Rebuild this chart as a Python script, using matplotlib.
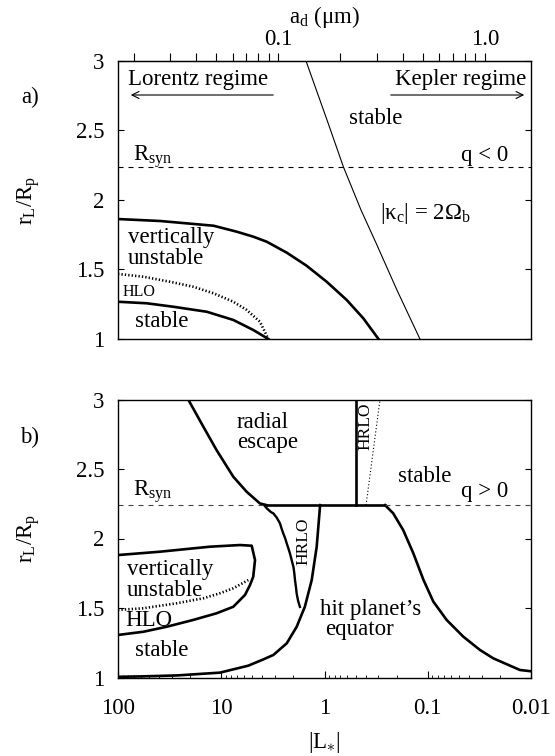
import matplotlib
matplotlib.use("Agg")
import matplotlib.pyplot as plt
from matplotlib.patches import FancyArrowPatch
from matplotlib.ticker import FixedLocator, FixedFormatter, NullFormatter

plt.rcParams["font.family"] = ["Liberation Serif", "DejaVu Serif"]
plt.rcParams["mathtext.fontset"] = "custom"
plt.rcParams["mathtext.rm"] = "Liberation Serif"
plt.rcParams["mathtext.it"] = "Liberation Serif:italic"
plt.rcParams["mathtext.bf"] = "Liberation Serif:bold"

FS = 16.5          # main text size
FS_SMALL = 11.5
FS_HRLO = 12.5
THICK = 1.9
THIN = 0.8

# ---------------------------------------------------------------- data
R_SYN = 2.24
L_LIM = (100, 0.01)
R_LIM = (1.0, 3.0)
R_TICKS = [1.0, 1.5, 2.0, 2.5, 3.0]
R_TICK_LABELS = ["1", "1.5", "2", "2.5", "3"]
L_TICKS = [100, 10, 1, 0.1, 0.01]
L_TICK_LABELS = ["100", "10", "1", "0.1", "0.01"]
A_TICKS = [0.1, 1.0]
A_TICK_LABELS = ["0.1", "1.0"]
A_MINOR = [0.02, 0.03, 0.04, 0.05, 0.06, 0.07, 0.08, 0.09,
           0.2, 0.3, 0.4, 0.5, 0.6, 0.7, 0.8, 0.9]
L_AT_A01 = 2.8     # |L*| where a_d = 0.1 micron (a_d ~ |L*|^-1/2)

# panel a: negative charge (q < 0)
kappa_L = [1.51, 0.946, 0.655, 0.443, 0.317, 0.199, 0.119]
kappa_r = [3.0, 2.576, 2.237, 1.928, 1.691, 1.353, 1.0]
vert_a_L = [100, 39.2, 11.9, 7.08, 4.89, 3.63, 2.32, 1.49, 0.953, 0.61, 0.421, 0.30]
vert_a_r = [1.863, 1.849, 1.815, 1.772, 1.736, 1.700, 1.621, 1.527, 1.412, 1.281, 1.149, 1.0]
hlo_a_L = [100, 56.9, 31.4, 18.7, 11.9, 7.64, 5.67, 4.22, 3.50]
hlo_a_r = [1.468, 1.448, 1.412, 1.376, 1.329, 1.268, 1.209, 1.124, 1.0]
stab_a_L = [100, 52.7, 29.1, 13.8, 7.64, 4.9, 3.50]
stab_a_r = [1.268, 1.257, 1.232, 1.196, 1.137, 1.065, 1.0]

# panel b: positive charge (q > 0)
esc_L = [20.9, 14.9, 11.1, 7.64, 5.67, 4.22, 3.63]
esc_r = [3.0, 2.804, 2.636, 2.444, 2.336, 2.252, 2.24]
syn_edge_L = [3.63, 0.259]
wall_L = [0.495, 0.495]
wall_r = [2.24, 3.0]
hrlo_top_L = [0.396, 0.29]
hrlo_top_r = [2.24, 3.0]
hit_right_L = [0.259, 0.216, 0.173, 0.138, 0.110, 0.0883, 0.0656, 0.0453,
               0.0312, 0.0232, 0.0128, 0.01]
hit_right_r = [2.24, 2.181, 2.061, 1.894, 1.702, 1.546, 1.414, 1.294,
               1.198, 1.138, 1.054, 1.045]
hit_left_L = [100, 58.8, 26.7, 10.3, 5.48, 3.92, 3.13, 2.32, 1.86, 1.55,
              1.33, 1.19, 1.106, 1.10]
hit_left_r = [1.005, 1.008, 1.015, 1.035, 1.085, 1.13, 1.162, 1.246, 1.365,
              1.509, 1.701, 1.941, 2.229, 2.24]
hrlo_jag_L = [3.85, 3.6, 3.3, 3.13, 2.9, 2.70, 2.60, 2.51, 2.40, 2.32, 2.24,
              2.16, 2.08, 2.00, 1.96, 1.93, 1.89, 1.86, 1.80, 1.73]
hrlo_jag_r = [2.24, 2.215, 2.19, 2.181, 2.15, 2.109, 2.07, 2.037, 2.0, 1.964,
              1.93, 1.892, 1.845, 1.796, 1.75, 1.700, 1.65, 1.604, 1.55, 1.508]
vu_b_L = [100, 39.2, 12.9, 6.58, 5.07, 4.71, 4.90, 5.27, 5.89, 7.64, 11.1,
          18.7, 33.8, 56.9, 100]
vu_b_r = [1.881, 1.905, 1.941, 1.953, 1.948, 1.845, 1.725, 1.665, 1.594,
          1.509, 1.462, 1.414, 1.365, 1.329, 1.306]
hlo_b_L = [100, 56.9, 27.0, 14.9, 10.3, 7.64, 5.47]
hlo_b_r = [1.486, 1.498, 1.534, 1.570, 1.606, 1.642, 1.701]

# ---------------------------------------------------------------- figure
W, H = 555, 756
fig = plt.figure(figsize=(W / 100, H / 100), dpi=100)


def box(left, top, right, bottom):
    return [left / W, 1 - bottom / H, (right - left) / W, (bottom - top) / H]


def ptext(x, y, s, **kw):
    kw.setdefault("fontsize", FS)
    fig.text(x / W, 1 - y / H, s, **kw)


ax_a = fig.add_axes(box(118, 61, 531, 339))
ax_b = fig.add_axes(box(118, 399.5, 531, 677.5))

dash = (0, (4.5, 4.5))
dots = (0, (0.5, 0.8))
fine_dots = (0, (1, 2))

for ax in (ax_a, ax_b):
    ax.set_xscale("log")
    ax.set_xlim(*L_LIM)
    ax.set_ylim(*R_LIM)
    ax.yaxis.set_major_locator(FixedLocator(R_TICKS))
    ax.yaxis.set_major_formatter(FixedFormatter(R_TICK_LABELS))
    ax.tick_params(axis="y", which="both", direction="in", left=True,
                   right=True, length=4, width=0.8, labelsize=FS, pad=10)
    for s in ax.spines.values():
        s.set_linewidth(1.0)
    ax.set_ylabel(r"r$_\mathrm{L}$/R$_\mathrm{p}$", fontsize=FS)
    ax.yaxis.set_label_coords(-0.183, 0.5)

# panel a
ax_a.tick_params(axis="x", which="both", bottom=False, top=False,
                 labelbottom=False)
ax_a.plot(kappa_L, kappa_r, color="black", lw=THIN)
ax_a.plot(vert_a_L, vert_a_r, color="black", lw=THICK)
ax_a.plot(hlo_a_L, hlo_a_r, color="black", lw=THICK, linestyle=dots)
ax_a.plot(stab_a_L, stab_a_r, color="black", lw=THICK)
ax_a.plot(L_LIM, [R_SYN, R_SYN], color="black", lw=THIN, linestyle=dash)

sec = ax_a.secondary_xaxis(
    "top",
    functions=(lambda L: 0.1 * (L / L_AT_A01) ** -0.5,
               lambda a: L_AT_A01 * (a / 0.1) ** -2.0))
sec.xaxis.set_major_locator(FixedLocator(A_TICKS))
sec.xaxis.set_major_formatter(FixedFormatter(A_TICK_LABELS))
sec.xaxis.set_minor_locator(FixedLocator(A_MINOR))
sec.xaxis.set_minor_formatter(NullFormatter())
sec.tick_params(axis="x", which="both", direction="out", length=6,
                width=0.8, labelsize=FS, pad=2)
sec.set_xlabel(r"a$_\mathrm{d}$ (μm)", fontsize=FS, labelpad=4)

# panel b
ax_b.plot(esc_L, esc_r, color="black", lw=THICK)
ax_b.plot(syn_edge_L, [R_SYN, R_SYN], color="black", lw=THICK)
ax_b.plot(wall_L, wall_r, color="black", lw=THICK)
ax_b.plot(hrlo_top_L, hrlo_top_r, color="black", lw=THIN, linestyle=fine_dots)
ax_b.plot(hit_right_L, hit_right_r, color="black", lw=THICK)
ax_b.plot(hit_left_L, hit_left_r, color="black", lw=THICK)
ax_b.plot(hrlo_jag_L, hrlo_jag_r, color="black", lw=THICK - 0.2)
ax_b.plot(vu_b_L, vu_b_r, color="black", lw=THICK)
ax_b.plot(hlo_b_L, hlo_b_r, color="black", lw=THICK, linestyle=dots)
ax_b.plot([L_LIM[0], esc_L[-1]], [R_SYN, R_SYN], color="#444444", lw=THIN,
          linestyle=dash)
ax_b.plot([hit_right_L[0], L_LIM[1]], [R_SYN, R_SYN], color="#444444",
          lw=THIN, linestyle=dash)

ax_b.xaxis.set_major_locator(FixedLocator(L_TICKS))
ax_b.xaxis.set_major_formatter(FixedFormatter(L_TICK_LABELS))
ax_b.xaxis.set_minor_formatter(NullFormatter())
ax_b.tick_params(axis="x", which="major", direction="in", length=5,
                 width=0.8, labelsize=FS, pad=15, top=False)
ax_b.tick_params(axis="x", which="minor", direction="in", length=2.5,
                 width=0.6, top=False)
ax_b.set_xlabel(r"|L$_{\ast}$|", fontsize=FS, labelpad=8)

# ---------------------------------------------------------------- labels
ptext(30, 97, "a)", ha="center", va="center")
ptext(30, 437, "b)", ha="center", va="center")

ptext(128, 80, "Lorentz regime", ha="left", va="center")
ptext(526, 80, "Kepler regime", ha="right", va="center")
for x0, x1 in ((276, 128), (388, 527)):
    fig.add_artist(FancyArrowPatch(
        (x0 / W, 1 - 95 / H), (x1 / W, 1 - 95 / H), transform=fig.transFigure,
        arrowstyle="->,head_length=5,head_width=2.5", lw=0.8, color="black"))

ptext(376, 118, "stable", ha="center", va="center")
ptext(133, 157, r"R$_\mathrm{syn}$", ha="left", va="center")
ptext(508, 155, "q < 0", ha="right", va="center")
ptext(380, 213, r"|κ$_\mathrm{c}$| = 2Ω$_\mathrm{b}$", ha="left", va="center")
ptext(128, 237, "vertically", ha="left", va="center")
ptext(128, 259, "unstable", ha="left", va="center")
ptext(123, 292, "HLO", ha="left", va="center", fontsize=FS_SMALL)
ptext(135, 321, "stable", ha="left", va="center")

ptext(237, 423, "radial", ha="left", va="center")
ptext(237, 443, "escape", ha="left", va="center")
ptext(365, 426, "HRLO", ha="center", va="center", rotation=90,
      fontsize=FS_HRLO)
ptext(303, 541, "HRLO", ha="center", va="center", rotation=90,
      fontsize=FS_HRLO)
ptext(425, 477, "stable", ha="center", va="center")
ptext(508, 492, "q > 0", ha="right", va="center")
ptext(133, 492, r"R$_\mathrm{syn}$", ha="left", va="center")
ptext(127, 569, "vertically", ha="left", va="center")
ptext(127, 591, "unstable", ha="left", va="center")
ptext(125, 621, "HLO", ha="left", va="center")
ptext(135, 651, "stable", ha="left", va="center")
ptext(320, 609, "hit planet’s", ha="left", va="center")
ptext(325, 630, "equator", ha="left", va="center")

fig.savefig("out.png", dpi=100)
